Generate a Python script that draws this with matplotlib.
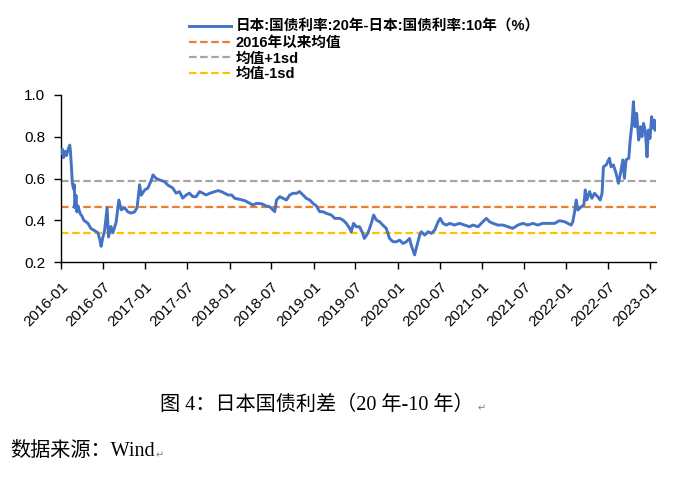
import matplotlib
matplotlib.use("Agg")
import matplotlib.pyplot as plt
import matplotlib.dates as mdates
import pandas as pd

dates = [
    "2016-01-04","2016-01-07","2016-01-12","2016-01-18","2016-01-25","2016-02-01","2016-02-08","2016-02-11",
    "2016-02-15","2016-02-19","2016-02-24","2016-02-28","2016-03-01","2016-03-06","2016-03-10","2016-03-14",
    "2016-03-19","2016-03-25","2016-04-01","2016-04-09","2016-04-27","2016-05-10","2016-05-26","2016-06-09",
    "2016-06-18","2016-06-23","2016-07-01","2016-07-08","2016-07-19","2016-07-25","2016-08-05","2016-08-13",
    "2016-08-27","2016-09-08","2016-09-18","2016-10-03","2016-10-17","2016-10-31","2016-11-15","2016-11-26",
    "2016-12-07","2016-12-14","2016-12-29","2017-01-12","2017-01-27","2017-02-03","2017-02-17","2017-03-04",
    "2017-03-25","2017-04-08","2017-04-30","2017-05-14","2017-05-29","2017-06-12","2017-06-27","2017-07-11",
    "2017-07-26","2017-08-09","2017-08-24","2017-09-07","2017-09-21",
    "2017-10-07","2017-10-29","2017-11-12","2017-11-27","2017-12-11","2017-12-26","2018-01-10","2018-01-24",
    "2018-02-15","2018-03-08","2018-03-30","2018-04-13","2018-04-28","2018-05-20","2018-06-10","2018-06-24",
    "2018-07-09","2018-07-16","2018-07-24","2018-08-07","2018-08-21","2018-09-05","2018-09-19","2018-10-03",
    "2018-10-18","2018-11-01","2018-11-16","2018-11-30","2018-12-15","2018-12-29","2019-01-13","2019-01-27",
    "2019-02-10","2019-02-25","2019-03-19","2019-04-02","2019-04-24","2019-05-08","2019-05-23","2019-06-06",
    "2019-06-13","2019-06-23","2019-07-05","2019-07-19",
    "2019-08-02","2019-08-09","2019-08-24","2019-09-08","2019-09-18","2019-09-30","2019-10-14","2019-10-28",
    "2019-11-12","2019-11-26","2019-12-11","2019-12-26","2020-01-09","2020-01-23","2020-02-07","2020-02-21",
    "2020-02-28","2020-03-14","2020-03-21","2020-04-05","2020-04-12","2020-04-27","2020-05-11","2020-05-26",
    "2020-06-09","2020-06-24","2020-07-03","2020-07-15","2020-07-30","2020-08-13","2020-09-03","2020-09-25",
    "2020-10-17","2020-11-07","2020-11-22","2020-12-14","2021-01-04","2021-01-19","2021-02-02","2021-02-17",
    "2021-03-10","2021-04-01","2021-04-23","2021-05-14","2021-06-05","2021-06-27","2021-07-18","2021-08-09",
    "2021-08-30","2021-09-21","2021-10-13",
    "2021-11-11","2021-12-02","2021-12-24","2022-01-07","2022-01-22","2022-01-29","2022-02-06","2022-02-13",
    "2022-02-20","2022-03-07","2022-03-18","2022-03-24","2022-03-31","2022-04-12","2022-04-22","2022-05-03",
    "2022-05-17","2022-05-28","2022-06-05","2022-06-11","2022-06-23","2022-07-07","2022-07-14","2022-07-24",
    "2022-08-05","2022-08-15","2022-08-24","2022-09-03","2022-09-10","2022-09-17","2022-09-29","2022-10-05",
    "2022-10-13","2022-10-19","2022-10-26","2022-11-02","2022-11-11","2022-11-18","2022-11-25","2022-12-02",
    "2022-12-10","2022-12-17","2022-12-23","2022-12-30","2023-01-06","2023-01-14","2023-01-18","2023-01-22",
]

spread = [
    0.72, 0.74, 0.70, 0.73, 0.71, 0.74, 0.76, 0.73,
    0.66, 0.58, 0.55, 0.57, 0.46, 0.52, 0.44, 0.47,
    0.45, 0.43, 0.42, 0.40, 0.385, 0.36, 0.35, 0.34,
    0.305, 0.275, 0.32, 0.35, 0.46, 0.32, 0.37, 0.34,
    0.39, 0.497, 0.45, 0.46, 0.44, 0.434, 0.44, 0.46,
    0.57, 0.52, 0.545, 0.554, 0.593, 0.617, 0.60, 0.593,
    0.585, 0.569, 0.554, 0.53, 0.537, 0.506, 0.521, 0.53,
    0.513, 0.513, 0.537, 0.53, 0.521,
    0.529, 0.537, 0.542, 0.537, 0.529, 0.521, 0.521, 0.505,
    0.50, 0.494, 0.481, 0.473, 0.481, 0.479, 0.468, 0.465,
    0.449, 0.441, 0.497, 0.513, 0.505, 0.497, 0.521, 0.529,
    0.529, 0.537, 0.521, 0.505, 0.497, 0.481, 0.468, 0.441,
    0.441, 0.433, 0.425, 0.409, 0.409, 0.401, 0.385, 0.361,
    0.345, 0.385, 0.369, 0.369,
    0.337, 0.313, 0.337, 0.385, 0.425, 0.401, 0.393, 0.377,
    0.361, 0.313, 0.297, 0.297, 0.305, 0.289, 0.297, 0.313,
    0.281, 0.234, 0.266, 0.329, 0.345, 0.329, 0.345, 0.337,
    0.353, 0.393, 0.409, 0.385, 0.377, 0.385, 0.377, 0.385,
    0.377, 0.369, 0.377, 0.369, 0.393, 0.409, 0.393, 0.385,
    0.377, 0.377, 0.369, 0.361, 0.377, 0.385, 0.377, 0.385,
    0.377, 0.385, 0.385,
    0.385, 0.398, 0.393, 0.385, 0.377, 0.393, 0.441, 0.497,
    0.449, 0.465, 0.473, 0.545, 0.497, 0.537, 0.505, 0.529,
    0.513, 0.497, 0.529, 0.656, 0.665, 0.697, 0.656, 0.665,
    0.625, 0.577, 0.625, 0.689, 0.601, 0.689, 0.697, 0.784,
    0.864, 0.968, 0.848, 0.912, 0.784, 0.848, 0.800, 0.864,
    0.824, 0.704, 0.832, 0.792, 0.896, 0.840, 0.880, 0.832,
]

mean_level = 0.465
upper_level = 0.59
lower_level = 0.34

labels = ["日本:国债利率:20年-日本:国债利率:10年（%）", "2016年以来均值", "均值+1sd", "均值-1sd"]
tick_dates = ["2016-01","2016-07","2017-01","2017-07","2018-01","2018-07","2019-01","2019-07",
              "2020-01","2020-07","2021-01","2021-07","2022-01","2022-07","2023-01"]
y_ticks = [0.2, 0.4, 0.6, 0.8, 1.0]
caption = "图 4：日本国债利差（20 年-10 年）"
source = "数据来源：Wind"
para_mark = "↵"

x = pd.to_datetime(dates)

fig = plt.figure(figsize=(6.75, 4.84), dpi=100)
ax = fig.add_axes([61/675, 1-262/484, (656-61)/675, (262-95)/484])

ax.plot(x, spread, color="#4472C4", lw=2.1, label=labels[0], zorder=3)
ax.axhline(mean_level, color="#ED7D31", lw=1.6, dashes=(3.4, 1.6), label=labels[1], zorder=2)
ax.axhline(upper_level, color="#A5A5A5", lw=1.6, dashes=(3.4, 1.6), label=labels[2], zorder=2)
ax.axhline(lower_level, color="#FFC000", lw=1.6, dashes=(3.4, 1.6), label=labels[3], zorder=2)

ax.set_ylim(0.2, 1.0)
ax.set_yticks(y_ticks)
ax.set_yticklabels([f"{v:.1f}" for v in y_ticks])
ax.set_xlim(pd.Timestamp("2016-01-01"), pd.Timestamp("2023-01-25"))
ax.set_xticks(pd.to_datetime(tick_dates))
ax.xaxis.set_major_formatter(mdates.DateFormatter("%Y-%m"))

for s in ["top", "right"]:
    ax.spines[s].set_visible(False)
for s in ["left", "bottom"]:
    ax.spines[s].set_color("black")
    ax.spines[s].set_linewidth(1.0)

ax.tick_params(axis="both", direction="out", length=5, width=1, colors="black", labelsize=11)
ax.tick_params(axis="y", pad=6.5)
ax.tick_params(axis="x", pad=8)
for lab in ax.get_xticklabels():
    lab.set_rotation(45)
    lab.set_ha("right")
    lab.set_rotation_mode("anchor")
    lab.set_family(["Liberation Sans"])
for lab in ax.get_yticklabels():
    lab.set_family(["Liberation Sans"])

leg = ax.legend(loc="upper left", bbox_to_anchor=(189/675, 1-20/484), bbox_transform=fig.transFigure,
                frameon=False, handlelength=2.9, handletextpad=0.3, labelspacing=0.12,
                borderpad=0, borderaxespad=0,
                prop={"family": ["Liberation Sans", "Noto Sans CJK SC"], "weight": "bold", "size": 10.5})

serif = ["Liberation Serif", "Noto Sans CJK SC"]
fig.text(160/675, 1-405/484, caption, fontsize=14.5, va="center", ha="left", family=serif)
fig.text(10/675, 1-452/484, source, fontsize=14.5, va="center", ha="left", family=serif)
fig.text(478/675, 1-408/484, para_mark, fontsize=7, color="#808080", va="center", ha="left",
         family=["DejaVu Sans"])
fig.text(156/675, 1-455/484, para_mark, fontsize=7, color="#808080", va="center", ha="left",
         family=["DejaVu Sans"])

fig.savefig("out.png", dpi=100)
